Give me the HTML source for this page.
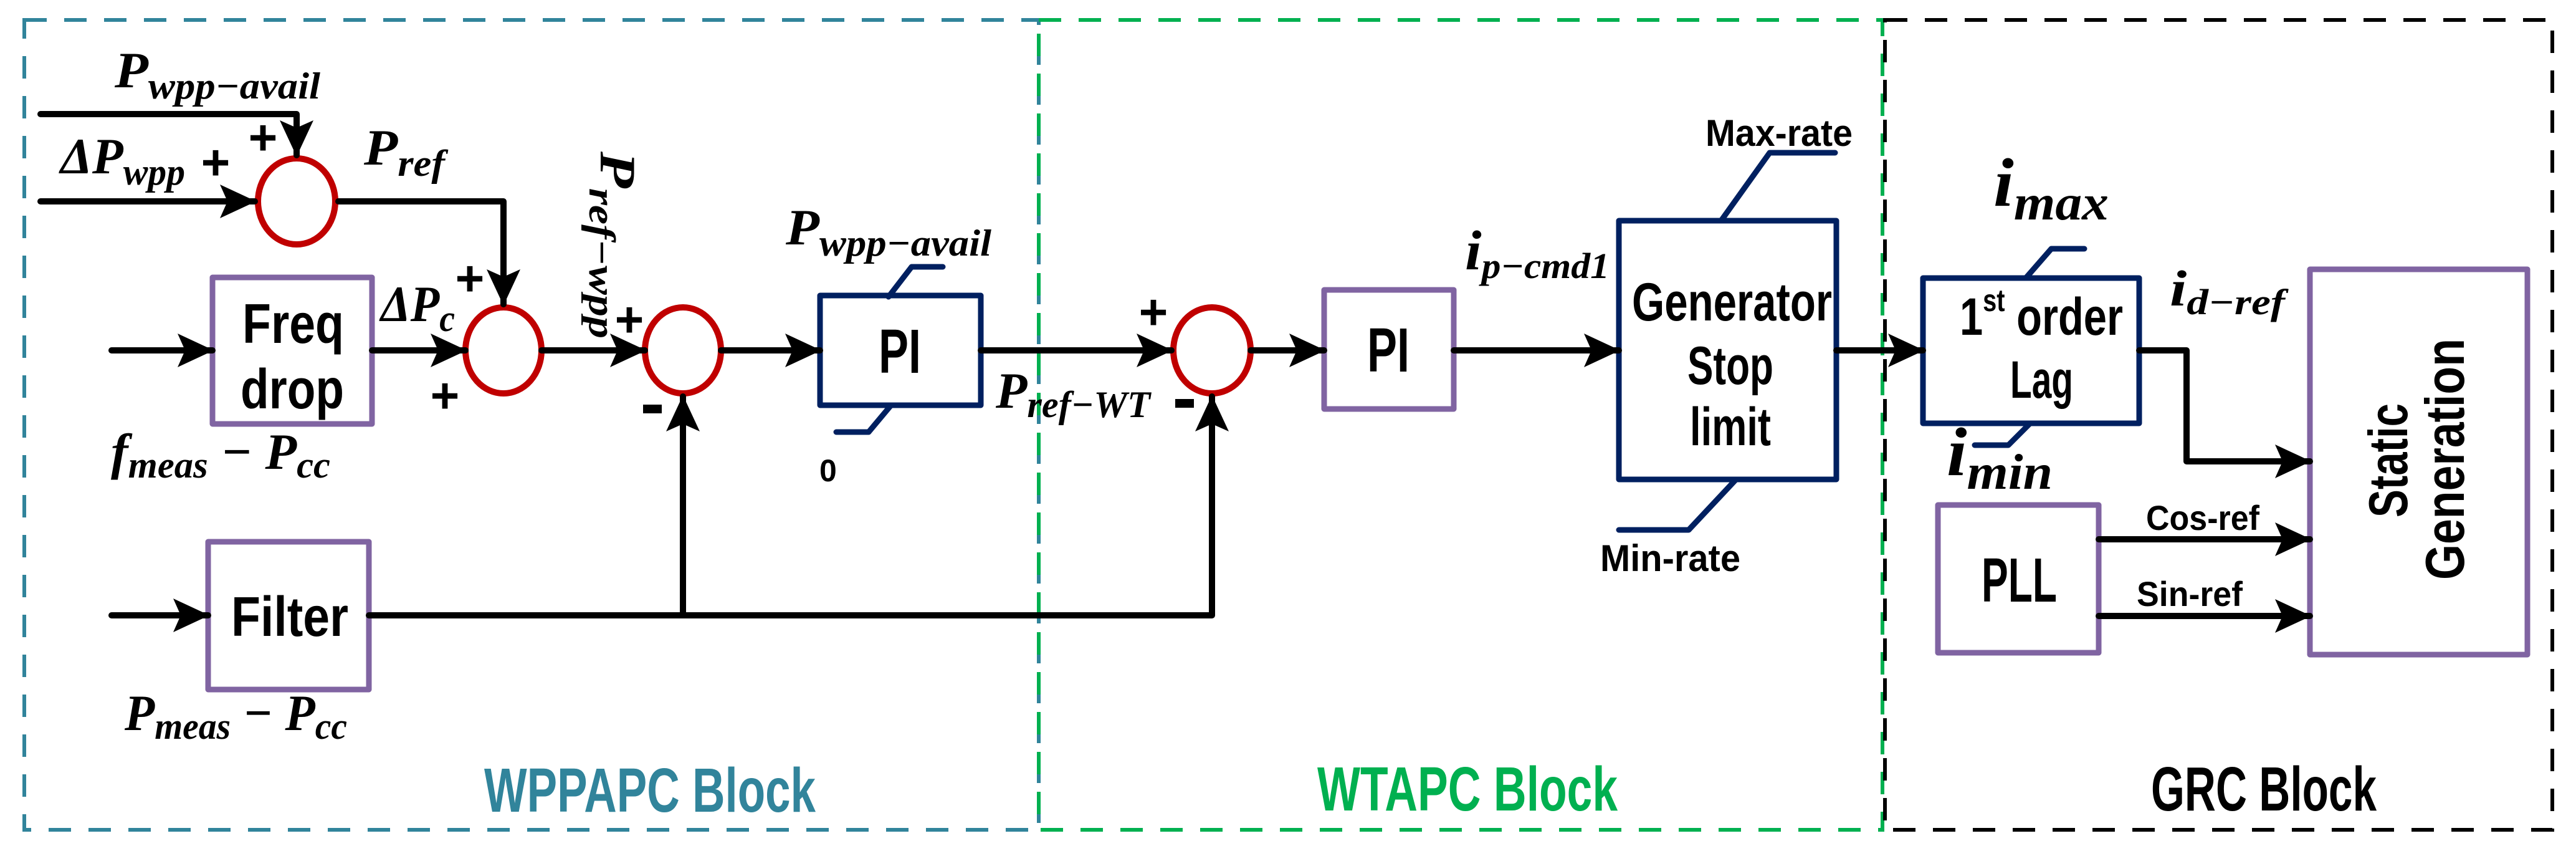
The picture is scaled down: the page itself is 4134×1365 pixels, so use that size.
<!DOCTYPE html>
<html><head><meta charset="utf-8"><style>
html,body{margin:0;padding:0;background:#fff;}
svg{display:block;}
.m{font-family:"Liberation Serif",serif;font-style:italic;font-weight:bold;fill:#000;}
.s{font-family:"Liberation Sans",sans-serif;font-weight:bold;fill:#000;}
</style></head><body>
<svg width="4134" height="1365" viewBox="0 0 4134 1365" xmlns="http://www.w3.org/2000/svg">
<defs>
<marker id="a" markerUnits="userSpaceOnUse" markerWidth="60" markerHeight="60" viewBox="0 0 60 60" refX="56" refY="30" orient="auto">
<path d="M0,3 L58,30 L0,57 L12,30 Z" fill="#000"/>
</marker>
</defs>
<g fill="none" stroke-width="6" stroke-dasharray="36 28">
<rect x="39" y="32" width="1628" height="1299" stroke="#31849b"/>
<rect x="1667" y="32" width="1354" height="1299" stroke="#00b050"/>
<rect x="3025" y="32" width="1071" height="1299" stroke="#000"/>
</g>
<g fill="none" stroke="#c00000" stroke-width="10">
<ellipse cx="476" cy="323" rx="62" ry="69"/>
<ellipse cx="808" cy="562" rx="61" ry="69"/>
<ellipse cx="1096" cy="562" rx="61" ry="69"/>
<ellipse cx="1945" cy="562" rx="62" ry="69"/>
</g>
<g fill="none" stroke-width="9" stroke-linejoin="round">
<rect x="341" y="445" width="256" height="235" stroke="#8064a2"/>
<rect x="334" y="869" width="258" height="237" stroke="#8064a2"/>
<rect x="1316" y="474" width="258" height="176" stroke="#002060"/>
<rect x="2125" y="465" width="208" height="191" stroke="#8064a2"/>
<rect x="2598" y="354" width="349" height="415" stroke="#002060"/>
<rect x="3086" y="446" width="347" height="233" stroke="#002060"/>
<rect x="3110" y="810" width="258" height="237" stroke="#8064a2"/>
<rect x="3707" y="432" width="349" height="618" stroke="#8064a2"/>
</g>
<g fill="none" stroke="#002060" stroke-width="9" stroke-linecap="round" stroke-linejoin="round">
<polyline points="1426,476 1463,428 1513,428"/>
<polyline points="1430,650 1394,693 1342,693"/>
<polyline points="2762,354 2840,245 2945,245"/>
<polyline points="2786,769 2710,850 2598,850"/>
<polyline points="3251,446 3292,399 3345,399"/>
<polyline points="3258,679 3223,714 3169,714"/>
</g>
<g fill="none" stroke="#000" stroke-width="10" stroke-linecap="round" stroke-linejoin="round">
<polyline points="65,183 476,183 476,249" marker-end="url(#a)"/>
<line x1="65" y1="323" x2="409" y2="323" marker-end="url(#a)"/>
<polyline points="543,323 808,323 808,488" marker-end="url(#a)"/>
<line x1="179" y1="562" x2="341" y2="562" marker-end="url(#a)"/>
<line x1="597" y1="562" x2="747" y2="562" marker-end="url(#a)"/>
<line x1="869" y1="562" x2="1035" y2="562" marker-end="url(#a)"/>
<line x1="1157" y1="562" x2="1316" y2="562" marker-end="url(#a)"/>
<line x1="1574" y1="562" x2="1880" y2="562" marker-end="url(#a)"/>
<line x1="179" y1="987" x2="334" y2="987" marker-end="url(#a)"/>
<polyline points="592,987 1945,987 1945,636" marker-end="url(#a)"/>
<line x1="1096" y1="987" x2="1096" y2="636" marker-end="url(#a)"/>
<line x1="2007" y1="562" x2="2125" y2="562" marker-end="url(#a)"/>
<line x1="2333" y1="562" x2="2598" y2="562" marker-end="url(#a)"/>
<line x1="2947" y1="562" x2="3086" y2="562" marker-end="url(#a)"/>
<polyline points="3433,562 3509,562 3509,740 3707,740" marker-end="url(#a)"/>
<line x1="3368" y1="865" x2="3707" y2="865" marker-end="url(#a)"/>
<line x1="3368" y1="988" x2="3707" y2="988" marker-end="url(#a)"/>
</g>
<g class="s" font-size="80" text-anchor="middle">
<text x="346" y="288">+</text>
<text x="422" y="248">+</text>
<text x="754" y="474">+</text>
<text x="714" y="662">+</text>
<text x="1010" y="540">+</text>
<text x="1851" y="528">+</text>
</g>
<g fill="#000">
<rect x="1032" y="649" width="30" height="14"/>
<rect x="1886" y="640" width="30" height="14"/>
</g>
<g class="s">
<text x="389" y="550" font-size="90" textLength="163" lengthAdjust="spacingAndGlyphs">Freq</text>
<text x="386" y="655" font-size="90" textLength="166" lengthAdjust="spacingAndGlyphs">drop</text>
<text x="371" y="1020" font-size="90" textLength="188" lengthAdjust="spacingAndGlyphs">Filter</text>
<text x="1410" y="598" font-size="100" textLength="68" lengthAdjust="spacingAndGlyphs">PI</text>
<text x="2194" y="596" font-size="100" textLength="68" lengthAdjust="spacingAndGlyphs">PI</text>
<text x="2619" y="514" font-size="86" textLength="321" lengthAdjust="spacingAndGlyphs">Generator</text>
<text x="2708" y="616" font-size="86" textLength="138" lengthAdjust="spacingAndGlyphs">Stop</text>
<text x="2712" y="714" font-size="86" textLength="130" lengthAdjust="spacingAndGlyphs">limit</text>
<text x="3180" y="965" font-size="100" textLength="121" lengthAdjust="spacingAndGlyphs">PLL</text>
<text x="3145" y="537" font-size="84" textLength="262" lengthAdjust="spacingAndGlyphs">1<tspan font-size="50" dy="-38">st</tspan><tspan dy="38"> order</tspan></text>
<text x="3226" y="638" font-size="84" textLength="101" lengthAdjust="spacingAndGlyphs">Lag</text>
<text transform="translate(3863,830) rotate(-90)" font-size="88" textLength="183" lengthAdjust="spacingAndGlyphs">Static</text>
<text transform="translate(3954,930) rotate(-90)" font-size="88" textLength="387" lengthAdjust="spacingAndGlyphs">Generation</text>
<text x="2737" y="234" font-size="60" textLength="236" lengthAdjust="spacingAndGlyphs">Max-rate</text>
<text x="2568" y="916" font-size="60" textLength="225" lengthAdjust="spacingAndGlyphs">Min-rate</text>
<text x="3444" y="850" font-size="56" textLength="182" lengthAdjust="spacingAndGlyphs">Cos-ref</text>
<text x="3429" y="972" font-size="56" textLength="170" lengthAdjust="spacingAndGlyphs">Sin-ref</text>
<text x="1315" y="772" font-size="50">0</text>
<text x="777" y="1302" font-size="100" textLength="532" lengthAdjust="spacingAndGlyphs" style="fill:#31849b">WPPAPC Block</text>
<text x="2114" y="1300" font-size="100" textLength="482" lengthAdjust="spacingAndGlyphs" style="fill:#00b050">WTAPC Block</text>
<text x="3452" y="1300" font-size="100" textLength="362" lengthAdjust="spacingAndGlyphs">GRC Block</text>
</g>
<g class="m">
<text x="184" y="140" font-size="82" textLength="330" lengthAdjust="spacingAndGlyphs">P<tspan font-size="60" dy="18">wpp−avail</tspan></text>
<text x="97" y="278" font-size="82" textLength="200" lengthAdjust="spacingAndGlyphs">ΔP<tspan font-size="60" dy="18">wpp</tspan></text>
<text x="584" y="264" font-size="82" textLength="130" lengthAdjust="spacingAndGlyphs">P<tspan font-size="60" dy="18">ref</tspan></text>
<text x="611" y="515" font-size="82" textLength="119" lengthAdjust="spacingAndGlyphs">ΔP<tspan font-size="60" dy="16">c</tspan></text>
<text transform="translate(964,243) rotate(90)" font-size="82" textLength="300" lengthAdjust="spacingAndGlyphs">P<tspan font-size="60" dy="18">ref−wpp</tspan></text>
<text x="1261" y="392" font-size="82" textLength="330" lengthAdjust="spacingAndGlyphs">P<tspan font-size="60" dy="18">wpp−avail</tspan></text>
<text x="1598" y="654" font-size="82" textLength="248" lengthAdjust="spacingAndGlyphs">P<tspan font-size="60" dy="15">ref−WT</tspan></text>
<text x="178" y="752" font-size="82" textLength="352" lengthAdjust="spacingAndGlyphs">f<tspan font-size="60" dy="14">meas</tspan><tspan font-size="82" dy="-14"> − P</tspan><tspan font-size="60" dy="14">cc</tspan></text>
<text x="200" y="1171" font-size="82" textLength="357" lengthAdjust="spacingAndGlyphs">P<tspan font-size="60" dy="14">meas</tspan><tspan font-size="82" dy="-14"> − P</tspan><tspan font-size="60" dy="14">cc</tspan></text>
<text x="2351" y="432" font-size="90" textLength="232" lengthAdjust="spacingAndGlyphs">i<tspan font-size="58" dy="14">p−cmd1</tspan></text>
<text x="3199" y="330" font-size="110" textLength="185" lengthAdjust="spacingAndGlyphs">i<tspan font-size="80" dy="22">max</tspan></text>
<text x="3482" y="490" font-size="82" textLength="185" lengthAdjust="spacingAndGlyphs">i<tspan font-size="58" dy="14">d−ref</tspan></text>
<text x="3124" y="762" font-size="110" textLength="170" lengthAdjust="spacingAndGlyphs">i<tspan font-size="80" dy="22">min</tspan></text>
</g>
</svg>
</body></html>
